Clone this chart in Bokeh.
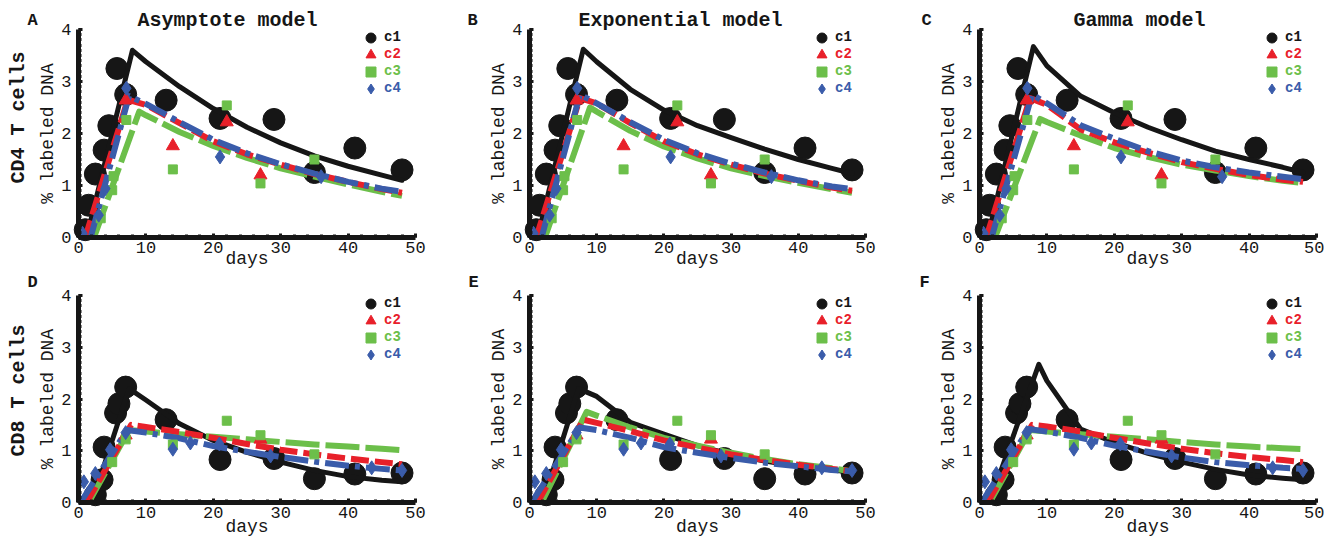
import math
from bokeh.plotting import figure
from bokeh.models import Range1d, Label, Legend, LegendItem, SingleIntervalTicker
from bokeh.layouts import row, column
from bokeh.embed import file_html
from bokeh.resources import INLINE

BLACK = "#161616"
RED = "#e8202a"
GREEN = "#6cbf4a"
BLUE = "#3a5caa"
FONT = "Liberation Mono"

# ---------------- measured data (same in every panel of a row) ----------------
cd4_c1_x = [1.0, 1.5, 2.5, 3.8, 4.5, 5.7, 7.0, 13, 21, 29, 35, 41, 48]
cd4_c1_y = [0.15, 0.62, 1.22, 1.68, 2.15, 3.25, 2.75, 2.64, 2.29, 2.27, 1.25, 1.72, 1.3]
cd4_c2_x = [7.0, 14, 22, 27]
cd4_c2_y = [2.64, 1.76, 2.22, 1.2]
cd4_c3_x = [3.3, 5.0, 5.2, 7.1, 14, 22, 27, 35]
cd4_c3_y = [0.37, 0.91, 1.18, 2.26, 1.31, 2.54, 1.04, 1.5]
cd4_c4_x = [0.6, 3.0, 4.0, 7.1, 21, 36]
cd4_c4_y = [0.08, 0.43, 0.94, 2.87, 1.55, 1.17]

cd8_c1_x = [2.5, 3.5, 3.8, 5.5, 6.0, 7.0, 13, 21, 29, 35, 41, 48]
cd8_c1_y = [0.15, 0.44, 1.07, 1.73, 1.91, 2.23, 1.6, 0.83, 0.85, 0.46, 0.55, 0.57]
cd8_c2_x = [7.0, 27]
cd8_c2_y = [1.3, 1.22]
cd8_c3_x = [5.0, 7.0, 14, 22, 27, 35]
cd8_c3_y = [0.78, 1.22, 1.12, 1.58, 1.3, 0.93]
cd8_c4_x = [0.8, 2.5, 4.7, 7.0, 14, 16.6, 20.9, 28.5, 43.5, 48]
cd8_c4_y = [0.40, 0.56, 1.02, 1.35, 1.03, 1.15, 1.13, 0.9, 0.67, 0.62]

# ---------------- model fits: onset day, peak day, peak value, values on decay_days ----------------
decay_days = [10, 15, 20, 25, 30, 35, 40, 45, 48]

# A: Asymptote model, CD4
fitA_c1 = (1.2, 8.0, 3.6, [3.38, 2.9, 2.48, 2.12, 1.82, 1.57, 1.37, 1.2, 1.1])
fitA_c2 = (1.0, 7.3, 2.65, [2.55, 2.2, 1.85, 1.6, 1.4, 1.22, 1.07, 0.93, 0.86])
fitA_c3 = (2.3, 9.0, 2.42, [2.35, 2.03, 1.76, 1.53, 1.33, 1.17, 1.02, 0.88, 0.8])
fitA_c4 = (1.8, 7.5, 2.72, [2.57, 2.22, 1.88, 1.62, 1.41, 1.23, 1.07, 0.94, 0.88])
# B: Exponential model, CD4
fitB_c1 = (1.2, 8.0, 3.62, [3.38, 2.85, 2.45, 2.15, 1.92, 1.7, 1.5, 1.33, 1.23])
fitB_c2 = (1.0, 7.5, 2.68, [2.58, 2.2, 1.85, 1.6, 1.4, 1.23, 1.09, 0.96, 0.9])
fitB_c3 = (2.3, 9.0, 2.5, [2.42, 2.05, 1.75, 1.52, 1.33, 1.18, 1.05, 0.93, 0.86])
fitB_c4 = (1.8, 7.5, 2.75, [2.58, 2.22, 1.88, 1.62, 1.42, 1.25, 1.1, 0.98, 0.93])
# C: Gamma model, CD4
fitC_c1 = (1.2, 8.0, 3.67, [3.3, 2.72, 2.4, 2.12, 1.88, 1.66, 1.5, 1.35, 1.25])
fitC_c2 = (1.0, 7.5, 2.68, [2.55, 2.08, 1.83, 1.63, 1.45, 1.32, 1.2, 1.11, 1.07])
fitC_c3 = (2.3, 9.0, 2.28, [2.22, 1.96, 1.72, 1.55, 1.4, 1.29, 1.18, 1.09, 1.05])
fitC_c4 = (1.8, 7.8, 2.75, [2.58, 2.16, 1.9, 1.66, 1.48, 1.35, 1.25, 1.17, 1.12])
# D: Asymptote model, CD8
fitD_c1 = (2.0, 7.5, 2.2, [1.98, 1.52, 1.2, 0.97, 0.78, 0.62, 0.5, 0.43, 0.4])
fitD_c2 = (1.2, 7.8, 1.5, [1.46, 1.36, 1.25, 1.13, 1.02, 0.93, 0.85, 0.78, 0.74])
fitD_c3 = (1.5, 7.5, 1.4, [1.37, 1.32, 1.27, 1.22, 1.17, 1.12, 1.08, 1.04, 1.01])
fitD_c4 = (0.3, 7.2, 1.4, [1.35, 1.24, 1.09, 0.98, 0.88, 0.79, 0.71, 0.65, 0.62])
# E: Exponential model, CD8
fitE_c1 = (2.0, 7.3, 2.2, [2.05, 1.55, 1.32, 1.1, 0.93, 0.8, 0.7, 0.63, 0.59])
fitE_c2 = (1.2, 8.0, 1.6, [1.54, 1.38, 1.2, 1.06, 0.93, 0.82, 0.73, 0.65, 0.6])
fitE_c3 = (1.8, 8.5, 1.75, [1.68, 1.45, 1.25, 1.1, 0.96, 0.84, 0.74, 0.66, 0.6])
fitE_c4 = (0.3, 7.5, 1.45, [1.4, 1.25, 1.07, 0.96, 0.86, 0.77, 0.7, 0.63, 0.6])
# F: Gamma model, CD8
fitF_c1 = (1.5, 8.8, 2.67, [2.35, 1.42, 1.16, 0.95, 0.78, 0.64, 0.53, 0.47, 0.44])
fitF_c2 = (1.2, 7.8, 1.5, [1.47, 1.37, 1.25, 1.14, 1.04, 0.95, 0.88, 0.82, 0.78])
fitF_c3 = (1.5, 7.5, 1.4, [1.37, 1.32, 1.27, 1.22, 1.17, 1.12, 1.08, 1.05, 1.03])
fitF_c4 = (0.3, 7.3, 1.42, [1.37, 1.25, 1.1, 0.98, 0.87, 0.78, 0.72, 0.67, 0.65])

series_names = ["c1", "c2", "c3", "c4"]
panel_letters = ["A", "B", "C", "D", "E", "F"]
model_titles = ["Asymptote model", "Exponential model", "Gamma model"]
row_labels = ["CD4 T cells", "CD8 T cells"]
x_limits = (0, 50)
y_limits = (0, 4)

COLORS = [BLACK, RED, GREEN, BLUE]
MARKERS = ["circle", "triangle", "square", "diamond"]
MSIZES = [22, 13, 9, 14]
DASHES = ["solid", "18 6", "34 6", "24 6 5 6"]
LWIDTH = [5, 6, 6, 6]

data_rows = [
    [(cd4_c1_x, cd4_c1_y), (cd4_c2_x, cd4_c2_y), (cd4_c3_x, cd4_c3_y), (cd4_c4_x, cd4_c4_y)],
    [(cd8_c1_x, cd8_c1_y), (cd8_c2_x, cd8_c2_y), (cd8_c3_x, cd8_c3_y), (cd8_c4_x, cd8_c4_y)],
]
fits = [
    [fitA_c1, fitA_c2, fitA_c3, fitA_c4],
    [fitB_c1, fitB_c2, fitB_c3, fitB_c4],
    [fitC_c1, fitC_c2, fitC_c3, fitC_c4],
    [fitD_c1, fitD_c2, fitD_c3, fitD_c4],
    [fitE_c1, fitE_c2, fitE_c3, fitE_c4],
    [fitF_c1, fitF_c2, fitF_c3, fitF_c4],
]

# ---------------- layout geometry (canvas pixels) ----------------
col_w = [460, 445, 419]          # canvas widths
col_ax0 = [78, 69, 74]           # pixel of day 0
col_ax1 = [415, 405, 411]        # pixel of day 50
row_h = [270, 268]               # canvas heights
row_top = [29, 25]               # pixel (from top) of y = 4
row_bot = [237, 232]             # pixel (from top) of y = 0
letter_px = [(32, 20), (12, 20), (21, 20), (32, 12), (13, 12), (19, 12)]
title_px = [227, 220, 234]
rowlab_px = [(18, 117), (18, 120)]


def make_panel(r, c):
    idx = r * 3 + c
    W, H = col_w[c], row_h[r]
    x0p, x1p = col_ax0[c], col_ax1[c]
    ytp, ybp = row_top[r], row_bot[r]
    sx = (x1p - x0p) / (x_limits[1] - x_limits[0])
    sy = (ybp - ytp) / (y_limits[1] - y_limits[0])
    xr = Range1d(x_limits[0] - x0p / sx, x_limits[1] + (W - x1p) / sx)
    yr = Range1d(y_limits[0] - (H - ybp) / sy, y_limits[1] + ytp / sy)

    p = figure(width=W, height=H, output_backend="svg", toolbar_location=None,
               x_range=xr, y_range=yr, min_border=0,
               min_border_left=0, min_border_right=0, min_border_top=0, min_border_bottom=0)
    p.title.visible = False
    p.outline_line_color = None
    p.xgrid.visible = False
    p.ygrid.visible = False
    p.background_fill_color = "white"
    p.border_fill_color = "white"

    p.xaxis.fixed_location = 0
    p.yaxis.fixed_location = 0
    p.xaxis.bounds = x_limits
    p.yaxis.bounds = y_limits
    p.xaxis.ticker = SingleIntervalTicker(interval=10, num_minor_ticks=5)
    p.yaxis.ticker = SingleIntervalTicker(interval=1, num_minor_ticks=10)
    for ax in (p.xaxis, p.yaxis):
        ax.axis_line_width = 5
        ax.axis_line_color = BLACK
        ax.major_tick_in = 4
        ax.major_tick_out = 0
        ax.major_tick_line_width = 3
        ax.major_tick_line_color = BLACK
        ax.minor_tick_in = 3
        ax.minor_tick_out = 0
        ax.minor_tick_line_width = 3
        ax.minor_tick_line_color = BLACK
        ax.major_label_text_font = FONT
        ax.major_label_text_font_size = "17px"
        ax.major_label_text_color = BLACK
    p.xaxis.major_label_standoff = 4
    p.yaxis.major_label_standoff = 7
    p.yaxis.axis_label = "% labeled DNA"
    p.yaxis.axis_label_text_font = FONT
    p.yaxis.axis_label_text_font_style = "normal"
    p.yaxis.axis_label_text_font_size = "18px"
    p.yaxis.axis_label_text_color = BLACK
    p.yaxis.axis_label_standoff = 0

    pts = data_rows[r]
    fit = fits[idx]

    rend = {}
    rend[0] = p.scatter(pts[0][0], pts[0][1], marker=MARKERS[0], size=MSIZES[0],
                        fill_color=COLORS[0], line_color=COLORS[0])
    for k in [0, 2, 1, 3]:
        onset, pday, pval, dec = fit[k]
        xs = [onset, pday] + decay_days
        ys = [0.0, pval] + dec
        p.line(xs, ys, line_color=COLORS[k], line_width=LWIDTH[k], line_dash=DASHES[k],
               line_cap="round" if k == 0 else "butt", line_join="round")
    for k in [1, 2, 3]:
        rend[k] = p.scatter(pts[k][0], pts[k][1], marker=MARKERS[k], size=MSIZES[k],
                            fill_color=COLORS[k], line_color=COLORS[k])

    # legend: one legend per entry so that each label keeps its series colour
    centers = [8, 25, 42, 59]
    for k in range(4):
        lg = Legend(items=[LegendItem(label=series_names[k], renderers=[rend[k]])],
                    location=(x0p + 280, H - (ytp + centers[k] + 12.5)),
                    glyph_width=25, glyph_height=25, label_height=25,
                    label_standoff=1, padding=0, margin=0, spacing=0,
                    border_line_color=None, background_fill_alpha=0,
                    label_text_font=FONT, label_text_font_style="bold",
                    label_text_font_size="14px", label_text_color=COLORS[k])
        p.add_layout(lg)

    lx, ly = letter_px[idx]
    p.add_layout(Label(x=lx, y=H - ly, x_units="screen", y_units="screen",
                       text=panel_letters[idx], text_font=FONT, text_font_style="bold",
                       text_font_size="17px", text_color=BLACK,
                       text_align="center", text_baseline="middle"))
    if r == 0:
        p.add_layout(Label(x=title_px[c], y=H - 20, x_units="screen", y_units="screen",
                           text=model_titles[c], text_font=FONT, text_font_style="bold",
                           text_font_size="20px", text_color=BLACK,
                           text_align="center", text_baseline="middle"))
    if c == 0:
        rx, ry = rowlab_px[r]
        p.add_layout(Label(x=rx, y=H - ry, x_units="screen", y_units="screen",
                           text=row_labels[r], text_font=FONT, text_font_style="bold",
                           text_font_size="20px", text_color=BLACK, angle=math.pi / 2,
                           text_align="center", text_baseline="middle"))
    p.add_layout(Label(x=(x0p + x1p) / 2, y=2, x_units="screen", y_units="screen",
                       text="days", text_font=FONT, text_font_size="18px", text_color=BLACK,
                       text_align="center", text_baseline="bottom"))
    return p


rows = []
for r in range(2):
    rows.append(row(*[make_panel(r, c) for c in range(3)]))
layout = column(*rows)

open("out.html", "w").write(file_html(layout, INLINE))
